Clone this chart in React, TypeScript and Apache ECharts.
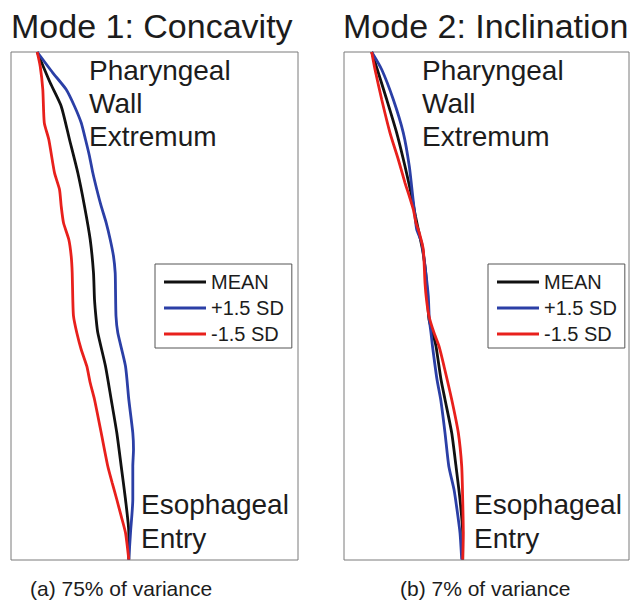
import React, { useEffect, useRef } from "react";
import * as echarts from "echarts";

// Curve coordinates, in pixels inside each panel box (x from the left edge, y down from the top edge)
const mode1Mean: number[][] = [
  [26.2, 0], [39.2, 30.8], [50.2, 54.2], [58.5, 87.5], [66.8, 120.8], [73.5, 154.2],
  [79.2, 187.5], [82.5, 220.8], [83.5, 247.5], [85.2, 267.5], [86.8, 280.8], [94.5, 314.2],
  [100.2, 347.5], [105.8, 380.8], [110.2, 414.2], [114.5, 447.5], [117.8, 480.8], [117.8, 507.5],
];
const mode1Plus: number[][] = [
  [26.2, 0], [41.8, 20.8], [55.2, 37.5], [63.5, 54.2], [70.2, 70.8], [74.5, 87.5],
  [78.5, 104.2], [81.8, 120.8], [85.8, 137.5], [90.2, 154.2], [95.2, 170.8], [99.2, 187.5],
  [102.5, 204.2], [104.2, 220.8], [104.5, 237.5], [105, 264.2], [106.8, 280.8], [114.5, 314.2],
  [117.8, 347.5], [121.8, 380.8], [122.5, 397.5], [121.8, 414.2], [121.8, 447.5], [119.5, 480.8],
  [117.8, 507.5],
];
const mode1Minus: number[][] = [
  [26.2, 0], [29.2, 14.2], [31.8, 37.5], [33.3, 70.8], [37.8, 87.5], [43.5, 120.8],
  [48.5, 137.5], [50.2, 154.2], [52.5, 170.8], [57.8, 187.5], [60.2, 204.2], [61.2, 220.8],
  [61.8, 247.5], [62.5, 264.2], [65.8, 280.8], [70.2, 297.5], [75.8, 314.2], [79.2, 330.8],
  [83.5, 347.5], [90.2, 380.8], [96.8, 414.2], [101.2, 430.8], [105.8, 447.5], [110.2, 464.2],
  [114.5, 480.8], [117.8, 507.5],
];
const mode2Mean: number[][] = [
  [27.7, 0], [33.3, 17.5], [42.7, 47.5], [52.7, 80.8], [61, 114.2], [67.7, 144.2],
  [71.5, 164.2], [75, 180.8], [78.5, 197.5], [81, 214.2], [82.5, 230.8], [83.5, 247.5],
  [85, 267.5], [88.7, 280.8], [92, 294.2], [97, 327.5], [101, 347.5], [107.7, 380.8],
  [112, 414.2], [116, 447.5], [118.7, 480.8], [118.7, 507.5],
];
const mode2Plus: number[][] = [
  [27.7, 0], [37.7, 17.5], [49.3, 47.5], [59.3, 80.8], [65.3, 114.2], [68.7, 144.2],
  [71, 164.2], [72.7, 177.5], [77.7, 190.8], [81, 214.2], [84.3, 244.2], [85.3, 267.5],
  [87, 280.8], [88.5, 294.2], [93, 327.5], [96.7, 347.5], [101, 380.8], [104.8, 414.2],
  [110, 437.5], [113, 457.5], [116, 480.8], [117.7, 507.5],
];
const mode2Minus: number[][] = [
  [27.7, 0], [31, 17.5], [37.7, 47.5], [46, 80.8], [54.3, 107.5], [61, 130.8],
  [65.3, 144.2], [69.3, 157.5], [72, 170.8], [75.3, 180.8], [79.3, 197.5], [81, 230.8],
  [82.5, 247.5], [85, 264.2], [90, 280.8], [95, 294.2], [100, 314.2], [107.7, 347.5],
  [114.3, 380.8], [117.7, 414.2], [118.7, 447.5], [119.3, 480.8], [118.7, 507.5],
];

const seriesNames = ["MEAN", "+1.5 SD", "-1.5 SD"];
const seriesColors = ["#111111", "#2b3fa6", "#e8201c"];
const panelTitles = ["Mode 1: Concavity", "Mode 2: Inclination"];
const panelCaptions = ["(a) 75% of variance", "(b) 7% of variance"];
const topLabel = "Pharyngeal\nWall\nExtremum";
const bottomLabel = "Esophageal\nEntry";

const FONT = '"Liberation Sans", Arial, Helvetica, sans-serif';
const TEXT_COLOR = "#1c1c1c";

const panels = [
  { curves: [mode1Mean, mode1Plus, mode1Minus], left: 11, width: 287, xMax: 287, legendLeft: 155, titleX: 11, topX: 89, bottomX: 141, capX: 30 },
  { curves: [mode2Mean, mode2Plus, mode2Minus], left: 344, width: 285, xMax: 285, legendLeft: 488, titleX: 343, topX: 422, bottomX: 474, capX: 400 },
];

function buildOption() {
  const grid = panels.map((p) => ({
    left: p.left,
    top: 52,
    width: p.width,
    height: 508,
    show: true,
    borderColor: "#7a7a7a",
    borderWidth: 1,
    backgroundColor: "transparent",
    containLabel: false,
  }));
  const xAxis = panels.map((p, i) => ({
    type: "value",
    gridIndex: i,
    min: 0,
    max: p.xMax,
    show: false,
  }));
  const yAxis = panels.map((_p, i) => ({
    type: "value",
    gridIndex: i,
    min: 0,
    max: 508,
    inverse: true,
    show: false,
  }));
  const series: any[] = [];
  panels.forEach((p, i) => {
    p.curves.forEach((data, k) => {
      series.push({
        type: "line",
        name: seriesNames[k],
        xAxisIndex: i,
        yAxisIndex: i,
        data,
        symbol: "none",
        showSymbol: false,
        smooth: 0.2,
        color: seriesColors[k],
        itemStyle: { color: seriesColors[k] },
        lineStyle: { color: seriesColors[k], width: 2.8 },
        z: 2 + k,
      });
    });
  });
  const legend = panels.map((p) => ({
    orient: "vertical",
    left: p.legendLeft,
    top: 264,
    data: seriesNames,
    icon: "rect",
    itemWidth: 42,
    itemHeight: 3,
    itemGap: 6,
    padding: [8, 8, 4, 9],
    borderColor: "#555555",
    borderWidth: 1,
    backgroundColor: "#ffffff",
    selectedMode: false,
    textStyle: { fontSize: 20, fontFamily: FONT, color: TEXT_COLOR, lineHeight: 20 },
  }));
  const title = panels.map((p, i) => ({
    text: panelTitles[i],
    left: p.titleX,
    top: 9,
    padding: 0,
    textStyle: { fontSize: 34, fontWeight: "normal", fontFamily: FONT, color: TEXT_COLOR, lineHeight: 34 },
  }));
  const graphic: any[] = [];
  panels.forEach((p, i) => {
    graphic.push({
      type: "text",
      x: p.topX,
      y: 54,
      style: { text: topLabel, fontSize: 28, fontFamily: FONT, fill: TEXT_COLOR, lineHeight: 33, align: "left", verticalAlign: "top" },
    });
    graphic.push({
      type: "text",
      x: p.bottomX,
      y: 487.6,
      style: { text: bottomLabel, fontSize: 28, fontFamily: FONT, fill: TEXT_COLOR, lineHeight: 34, align: "left", verticalAlign: "top" },
    });
    graphic.push({
      type: "text",
      x: p.capX,
      y: 588.7,
      style: { text: panelCaptions[i], fontSize: 21, fontFamily: FONT, fill: TEXT_COLOR, align: "left", verticalAlign: "middle" },
    });
  });
  return { animation: false, backgroundColor: "#ffffff", title, grid, xAxis, yAxis, legend, series, graphic };
}

export default function App() {
  const ref = useRef<HTMLDivElement>(null);
  useEffect(() => {
    if (!ref.current) return;
    const chart = echarts.init(ref.current, null, { renderer: "svg" });
    chart.setOption(buildOption() as any);
    return () => chart.dispose();
  }, []);
  return (
    <div
      ref={ref}
      style={{ position: "fixed", left: 0, top: 0, width: 631, height: 602, background: "#ffffff" }}
    />
  );
}
